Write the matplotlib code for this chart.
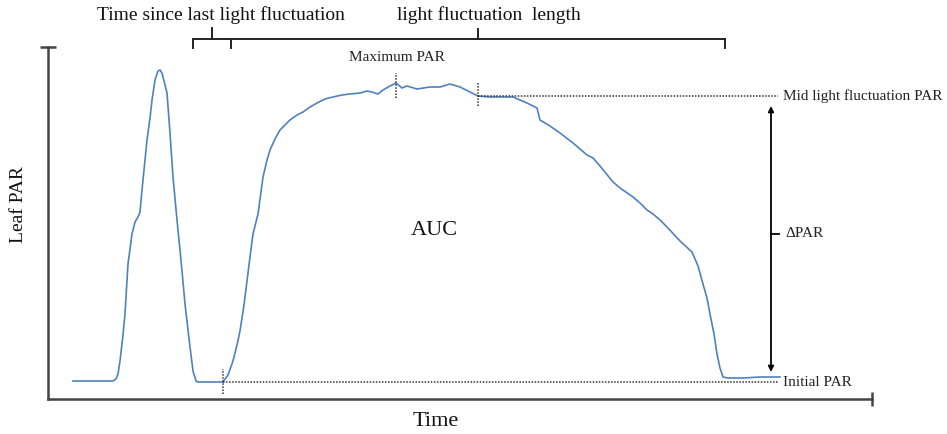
import matplotlib.pyplot as plt

plt.rcParams['font.family'] = ['Liberation Serif', 'DejaVu Serif']

# traced leaf PAR curve (time in arbitrary units, PAR in arbitrary units)
time = [25, 65, 68, 70, 72, 75, 77, 80, 84, 87, 90, 92, 94, 97, 99, 102, 104, 107, 110, 112,
        114, 117, 119, 122, 125, 129, 132, 134, 137, 140, 142, 145, 148, 150, 175, 180, 185,
        189, 192, 196, 199, 202, 205, 210, 215, 219, 222, 227, 232, 237, 242, 249, 255, 262,
        269, 277, 285, 294, 302, 312, 319, 324, 330, 335, 342, 348, 354, 359, 369, 382, 392,
        402, 412, 422, 430, 442, 452, 465, 479, 489, 492, 502, 512, 525, 539, 545, 552, 565,
        572, 585, 592, 599, 605, 612, 619, 632, 644, 650, 655, 659, 662, 666, 669, 672, 675,
        680, 695, 712, 732]
par = [18, 18, 20, 25, 38, 64, 85, 135, 165, 177, 182, 187, 209, 239, 259, 281, 299, 319,
       328, 329, 326, 314, 306, 266, 222, 179, 149, 128, 95, 69, 52, 28, 18, 17, 17, 24, 38,
       54, 68, 94, 118, 142, 165, 185, 222, 239, 249, 260, 269, 274, 279, 284, 287, 292, 296,
       300, 302, 304, 305, 306, 308, 307, 305, 309, 313, 316, 311, 313, 310, 312, 312, 315,
       312, 307, 303, 302, 302, 302, 296, 291, 279, 273, 266, 256, 244, 241, 233, 217, 211,
       202, 196, 189, 185, 179, 172, 158, 147, 133, 115, 101, 85, 65, 45, 31, 22, 21, 21, 22, 22]

initial_par = 17
mid_par = 303
max_time, max_par = 348, 316
start_time = 175      # curve leaves the initial level
mid_time = 430        # middle of the light fluctuation
last_time = 145       # end of previous light fluctuation
fluct_start = 183     # start of the fluctuation bracket
end_time = 677        # light fluctuation ends

W, H = 947, 434
fig = plt.figure(figsize=(W / 100, H / 100), dpi=100)
ax = fig.add_axes([48 / W, 35 / H, 824 / W, 352 / H])
ax.set_xlim(0, 824)
ax.set_ylim(0, 352)

for s in ['top', 'right']:
    ax.spines[s].set_visible(False)
for s in ['left', 'bottom']:
    ax.spines[s].set_color('#444444')
    ax.spines[s].set_linewidth(1.8)
ax.set_xticks([])
ax.set_yticks([])

# end caps on the axis lines
ax.plot([0], [352], marker='_', ms=12, mew=1.8, color='#444444', clip_on=False)
ax.plot([824], [0], marker='|', ms=10, mew=1.8, color='#444444', clip_on=False)

ax.plot(time, par, color='#4f81bd', lw=1.2, clip_on=False)

dot = dict(color='#333333', lw=1.1, ls=(0, (1, 1)), clip_on=False)
label_x = 735
ax.plot([start_time, 730], [initial_par, initial_par], **dot)
ax.plot([start_time, start_time], [initial_par - 12, initial_par + 13], **dot)
ax.plot([mid_time, 730], [mid_par, mid_par], **dot)
ax.plot([mid_time, mid_time], [mid_par - 10, mid_par + 14], **dot)
ax.plot([max_time, max_time], [max_par - 15, max_par + 10], **dot)

ax.text(label_x, initial_par, 'Initial PAR', fontsize=11, va='center', ha='left', color='#222222')
ax.text(label_x, mid_par, 'Mid light fluctuation PAR', fontsize=11, va='center', ha='left', color='#222222')
ax.text(max_time + 1, max_par + 25, 'Maximum PAR', fontsize=11, va='center', ha='center', color='#222222')

# delta PAR double arrow
delta_x = 723
ax.annotate('', xy=(delta_x, initial_par + 10), xytext=(delta_x, mid_par - 10),
            arrowprops=dict(arrowstyle='<|-|>', color='black', lw=1.3,
                            mutation_scale=8, shrinkA=0, shrinkB=0),
            annotation_clip=False)
mid_delta = (mid_par + initial_par) / 2 + 5
ax.plot([delta_x, delta_x + 8], [mid_delta, mid_delta], color='black', lw=1.3, clip_on=False)
ax.text(delta_x + 14, mid_delta, 'ΔPAR', fontsize=11, va='center', ha='left', color='#222222')

ax.text(386, 168, 'AUC', fontsize=16, ha='center', va='center', color='#111111')

# brackets above the plot
top = 360
br = dict(color='#222222', lw=1.4, clip_on=False)
ax.plot([last_time, end_time], [top, top], **br)
for t in [last_time, fluct_start, end_time]:
    ax.plot([t, t], [top, top - 9], **br)
ax.plot([(last_time + fluct_start) / 2] * 2, [top, top + 11], **br)
ax.plot([(fluct_start + end_time) / 2] * 2, [top, top + 10], **br)
ax.text(173, 384, 'Time since last light fluctuation', fontsize=14, ha='center', va='center', color='#111111')
ax.text(441, 384, 'light fluctuation  length', fontsize=14, ha='center', va='center', color='#111111')

ax.text(388, -22, 'Time', fontsize=16, ha='center', va='center', color='#111111')
ax.text(-30, 194, 'Leaf PAR', fontsize=14, ha='center', va='center', rotation=90, color='#111111')

fig.savefig('out.png', dpi=100)
